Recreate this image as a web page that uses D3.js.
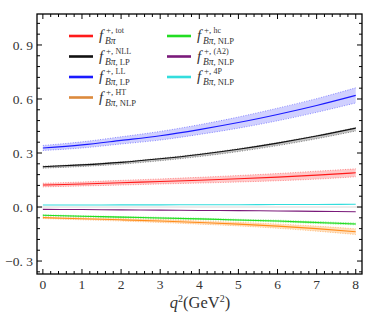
<!DOCTYPE html>
<html>
<head>
<meta charset="utf-8">
<script src="https://cdn.jsdelivr.net/npm/d3@7"></script>
<style>
  body { margin: 0; background: #fff; }
  svg { display: block; }
  text { font-family: "Liberation Serif", "DejaVu Serif", serif; }
</style>
</head>
<body>
<div id="chart"></div>
<script>
// q^2 sample points (GeV^2)
const q2 = [0, 1, 2, 3, 4, 5, 6, 7, 8];

// central values
const fTot = [0.122, 0.128, 0.135, 0.142, 0.149, 0.157, 0.166, 0.177, 0.190];
const fNLL = [0.224, 0.234, 0.248, 0.268, 0.292, 0.321, 0.355, 0.394, 0.438];
const fLL  = [0.328, 0.345, 0.370, 0.396, 0.430, 0.469, 0.514, 0.564, 0.620];
const fHT  = [-0.059, -0.065, -0.071, -0.078, -0.086, -0.095, -0.106, -0.120, -0.137];
const fHC  = [-0.046, -0.051, -0.056, -0.061, -0.066, -0.072, -0.078, -0.086, -0.094];
const fA2  = [-0.013, -0.014, -0.016, -0.017, -0.019, -0.020, -0.022, -0.024, -0.026];
const f4P  = [0.011, 0.011, 0.012, 0.012, 0.013, 0.013, 0.014, 0.014, 0.015];

// uncertainty band edges
const fTotLo = [0.112, 0.117, 0.122, 0.128, 0.133, 0.139, 0.146, 0.155, 0.168];
const fTotHi = [0.132, 0.139, 0.148, 0.156, 0.165, 0.175, 0.186, 0.199, 0.212];
const fNLLLo = [0.216, 0.225, 0.238, 0.257, 0.280, 0.308, 0.341, 0.379, 0.422];
const fNLLHi = [0.227, 0.237, 0.251, 0.271, 0.295, 0.324, 0.358, 0.397, 0.441];
const fLLLo  = [0.314, 0.328, 0.350, 0.372, 0.403, 0.438, 0.479, 0.526, 0.578];
const fLLHi  = [0.342, 0.362, 0.390, 0.420, 0.457, 0.500, 0.549, 0.602, 0.662];
const fHTLo  = [-0.064, -0.071, -0.078, -0.086, -0.095, -0.105, -0.118, -0.134, -0.153];
const fHTHi  = [-0.054, -0.059, -0.064, -0.070, -0.077, -0.085, -0.094, -0.106, -0.121];
const fHCLo  = [-0.049, -0.054, -0.059, -0.065, -0.070, -0.076, -0.083, -0.091, -0.099];
const fHCHi  = [-0.043, -0.048, -0.053, -0.057, -0.062, -0.068, -0.073, -0.081, -0.089];

const xTicks = [0, 1, 2, 3, 4, 5, 6, 7, 8];
const yTicks = [-0.3, 0, 0.3, 0.6, 0.9];

const series = [
  { key: "tot", sup: "tot", sub: "", color: "#ff1a1a", fill: "rgba(255,40,40,0.25)", v: fTot, lo: fTotLo, hi: fTotHi },
  { key: "NLL", sup: "NLL", sub: "LP", color: "#111111", fill: "rgba(60,60,60,0.3)", v: fNLL, lo: fNLLLo, hi: fNLLHi },
  { key: "LL", sup: "LL", sub: "LP", color: "#1a1aff", fill: "rgba(40,40,255,0.22)", v: fLL, lo: fLLLo, hi: fLLHi },
  { key: "HT", sup: "HT", sub: "NLP", color: "#ff8c1a", fill: "rgba(255,150,40,0.3)", v: fHT, lo: fHTLo, hi: fHTHi, legendColor: "#dc8a3c" },
  { key: "hc", sup: "hc", sub: "NLP", color: "#22dd22", fill: "rgba(40,220,40,0.3)", v: fHC, lo: fHCLo, hi: fHCHi },
  { key: "A2", sup: "(A2)", sub: "NLP", color: "#7a1a7a", fill: null, v: fA2 },
  { key: "4P", sup: "4P", sub: "NLP", color: "#33dddd", fill: null, v: f4P }
];

const width = 374, height = 312;
const margin = { left: 37, right: 12, top: 14, bottom: 38 };

const svg = d3.select("#chart").append("svg")
  .attr("width", width).attr("height", height);

const x = d3.scaleLinear().domain([-0.15, 8.16]).range([margin.left, width - margin.right]);
const y = d3.scaleLinear().domain([-0.372, 1.072]).range([height - margin.bottom, margin.top]);

const curve = d3.curveMonotoneX;

// zero line
svg.append("line")
  .attr("x1", x.range()[0]).attr("x2", x.range()[1])
  .attr("y1", y(0)).attr("y2", y(0))
  .attr("stroke", "#d8d8d8").attr("stroke-width", 1);

const plot = svg.append("g").attr("class", "plot");

series.forEach(s => {
  if (s.lo) {
    const area = d3.area().curve(curve)
      .x((d, i) => x(q2[i]))
      .y0((d, i) => y(s.lo[i]))
      .y1((d, i) => y(s.hi[i]));
    plot.append("path").datum(q2)
      .attr("d", area)
      .attr("fill", s.fill);
    [s.lo, s.hi].forEach(edge => {
      plot.append("path").datum(edge)
        .attr("d", d3.line().curve(curve).x((d, i) => x(q2[i])).y(d => y(d)))
        .attr("fill", "none")
        .attr("stroke", s.color)
        .attr("stroke-opacity", 0.45)
        .attr("stroke-width", 1)
        .attr("stroke-dasharray", "1,1.5");
    });
  }
});

series.forEach(s => {
  plot.append("path").datum(s.v)
    .attr("d", d3.line().curve(curve).x((d, i) => x(q2[i])).y(d => y(d)))
    .attr("fill", "none")
    .attr("stroke", s.color)
    .attr("stroke-width", 1.1);
});

// frame
const [x0, x1] = x.range();
const [yb, yt] = y.range();
svg.append("rect")
  .attr("x", x0).attr("y", yt)
  .attr("width", x1 - x0).attr("height", yb - yt)
  .attr("fill", "none").attr("stroke", "#000").attr("stroke-width", 1.3);

// ticks, all four sides, pointing inward
const ticks = svg.append("g").attr("stroke", "#000").attr("stroke-width", 1);
const xMinor = d3.range(0, 40.5, 1).map(i => i * 0.2).filter(v => v <= 8.16);
xMinor.forEach(v => {
  const major = Math.abs(v - Math.round(v)) < 1e-6;
  const len = major ? 5 : 3;
  ticks.append("line").attr("x1", x(v)).attr("x2", x(v)).attr("y1", yb).attr("y2", yb - len);
  ticks.append("line").attr("x1", x(v)).attr("x2", x(v)).attr("y1", yt).attr("y2", yt + len);
});
const yMinor = d3.range(-6, 18, 1).map(i => i * 0.06).filter(v => v >= -0.372 && v <= 1.072);
yMinor.forEach(v => {
  const major = Math.abs(v / 0.3 - Math.round(v / 0.3)) < 1e-6;
  const len = major ? 5 : 3;
  ticks.append("line").attr("x1", x0).attr("x2", x0 + len).attr("y1", y(v)).attr("y2", y(v));
  ticks.append("line").attr("x1", x1).attr("x2", x1 - len).attr("y1", y(v)).attr("y2", y(v));
});

// tick labels
const fmtY = v => (v < 0 ? "\u2212" : "") + Math.abs(v).toFixed(1).replace(".", ". ");
svg.append("g").selectAll("text").data(yTicks).join("text")
  .attr("x", x0 - 4).attr("y", d => y(d))
  .attr("dy", "0.35em")
  .attr("text-anchor", "end")
  .attr("font-size", 13.5)
  .attr("fill", "#333")
  .text(fmtY);

svg.append("g").selectAll("text").data(xTicks).join("text")
  .attr("x", d => x(d)).attr("y", yb + 15)
  .attr("text-anchor", "middle")
  .attr("font-size", 13.5)
  .attr("fill", "#333")
  .text(d => d);

// axis title q^2(GeV^2)
const xt = svg.append("text")
  .attr("x", 200).attr("y", 308)
  .attr("text-anchor", "middle")
  .attr("font-size", 16.5).attr("fill", "#333");
xt.append("tspan").attr("font-style", "italic").text("q");
xt.append("tspan").attr("font-size", 10).attr("dy", -6).text("2");
xt.append("tspan").attr("dy", 6).text("(GeV");
xt.append("tspan").attr("font-size", 10).attr("dy", -6).text("2");
xt.append("tspan").attr("dy", 6).text(")");

// legend
const legend = svg.append("g").attr("class", "legend");
const legendPos = [
  { lx: 69, cy: 36 }, { lx: 69, cy: 56.5 }, { lx: 69, cy: 77 }, { lx: 69, cy: 97.5 },
  { lx: 167, cy: 36 }, { lx: 167, cy: 56.5 }, { lx: 167, cy: 77 }
];
series.forEach((s, i) => {
  const p = legendPos[i];
  const g = legend.append("g").attr("transform", `translate(${p.lx},${p.cy})`);
  g.append("line").attr("x1", 0).attr("x2", 24).attr("y1", 0).attr("y2", 0)
    .attr("stroke", s.legendColor || s.color).attr("stroke-width", 2.6);
  g.append("text").attr("x", 30).attr("y", 4)
    .attr("font-size", 15).attr("font-style", "italic").attr("fill", "#333").text("f");
  const sup = g.append("text").attr("x", 37).attr("y", -3)
    .attr("font-size", 9).attr("fill", "#333");
  sup.append("tspan").text("+, ");
  sup.append("tspan").attr("font-size", 8).text(s.sup);
  const sub = g.append("text").attr("x", 36).attr("y", 8)
    .attr("font-size", 9.5).attr("fill", "#333");
  sub.append("tspan").attr("font-style", "italic").text("B\u03c0");
  if (s.sub) sub.append("tspan").attr("font-size", 8.5).text(", " + s.sub);
});
</script>
</body>
</html>
